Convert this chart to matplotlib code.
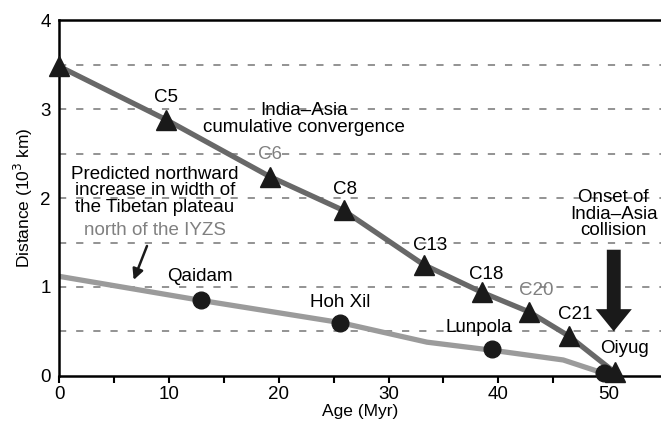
import numpy as np
import matplotlib.pyplot as plt

plt.rcParams['font.family'] = ['Liberation Sans', 'DejaVu Sans']

# India-Asia cumulative convergence (triangles)
conv_age = [0, 9.75, 19.2, 25.9, 33.2, 38.5, 42.8, 46.4, 50.6]
conv_dist = [3.48, 2.88, 2.24, 1.86, 1.25, 0.94, 0.72, 0.45, 0.04]
conv_labels = ['', 'C5', 'C6', 'C8', 'C13', 'C18', 'C20', 'C21', '']

# Predicted width of Tibetan plateau north of the IYZS (grey line)
width_age = [0, 12.9, 25.6, 33.5, 39.4, 45.9, 49.6]
width_dist = [1.12, 0.85, 0.60, 0.38, 0.29, 0.18, 0.03]

# sampled basins (circles)
site_names = ['Qaidam', 'Hoh Xil', 'Lunpola', 'Oiyug']
site_age = [12.9, 25.6, 39.4, 49.6]
site_dist = [0.85, 0.60, 0.30, 0.03]

FS = 13.5

fig = plt.figure(figsize=(6.61, 4.26), dpi=100)
ax = fig.add_axes([0.0893, 0.1174, 0.9107, 0.8356])

for y in np.arange(0.5, 4.0, 0.5):
    ax.axhline(y, color='#8a8a8a', lw=1.3, dashes=(4, 5.5), zorder=1)

ax.plot(width_age, width_dist, color='#9b9b9b', lw=3.8, solid_capstyle='butt', zorder=2)
ax.plot(conv_age, conv_dist, color='#686868', lw=3.8, solid_capstyle='butt', zorder=3)
ax.plot(site_age, site_dist, 'o', color='#1a1a1a', ms=12, zorder=4, clip_on=False)
ax.plot(conv_age, conv_dist, '^', color='#1a1a1a', ms=15, zorder=5, clip_on=False)

# magnetic anomaly labels
lab_off = {'C5': (0, 0.25), 'C6': (0, 0.25), 'C8': (0.1, 0.23), 'C13': (0.6, 0.22),
           'C18': (0.4, 0.2), 'C20': (0.6, 0.24), 'C21': (0.6, 0.24)}
for a, d, lab in zip(conv_age, conv_dist, conv_labels):
    if not lab:
        continue
    dx, dy = lab_off[lab]
    col = '#808080' if lab in ('C6', 'C20') else 'black'
    ax.text(a + dx, d + dy, lab, ha='center', va='center', fontsize=FS, color=col, zorder=6)

site_off = {'Qaidam': (-0.1, 0.27), 'Hoh Xil': (0, 0.23), 'Lunpola': (-1.2, 0.24), 'Oiyug': (1.9, 0.28)}
for a, d, n in zip(site_age, site_dist, site_names):
    dx, dy = site_off[n]
    ax.text(a + dx, d + dy, n, ha='center', va='center', fontsize=FS, zorder=6)

ax.text(22.3, 2.89, 'India–Asia\ncumulative convergence', ha='center', va='center',
        fontsize=FS, linespacing=0.98)
ax.text(8.74, 2.08, 'Predicted northward\nincrease in width of\nthe Tibetan plateau',
        ha='center', va='center', fontsize=FS, linespacing=0.98)
ax.text(8.74, 1.63, 'north of the IYZS', ha='center', va='center', fontsize=FS, color='#808080')
ax.text(50.5, 1.82, 'Onset of\nIndia–Asia\ncollision', ha='center', va='center',
        fontsize=FS, linespacing=0.98)

ax.annotate('', xy=(6.7, 1.05), xytext=(8.1, 1.49),
            arrowprops=dict(arrowstyle='-|>', color='#1a1a1a', lw=1.8, mutation_scale=16))
ax.annotate('', xy=(50.5, 0.47), xytext=(50.5, 1.45),
            arrowprops=dict(arrowstyle='simple,head_width=1.3,head_length=0.8,tail_width=0.5',
                            color='#1a1a1a', mutation_scale=20, lw=0))

ax.set_xlim(0, 54.8)
ax.set_ylim(0, 4)
ax.set_xticks(np.arange(0, 51, 10))
ax.set_xticks(np.arange(5, 55, 10), minor=True)
ax.set_yticks([0, 1, 2, 3, 4])
ax.tick_params(axis='x', which='both', direction='out', length=5, width=1.5, labelsize=FS, pad=2)
ax.tick_params(axis='y', length=0, labelsize=FS, pad=6)
ax.spines['right'].set_visible(False)
for s in ('left', 'bottom', 'top'):
    ax.spines[s].set_linewidth(1.8)
ax.set_xlabel('Age (Myr)', fontsize=12.5, labelpad=1)
ax.set_ylabel('Distance (10$^3$ km)', fontsize=12.5, labelpad=4)

fig.savefig('out.png', dpi=100)
